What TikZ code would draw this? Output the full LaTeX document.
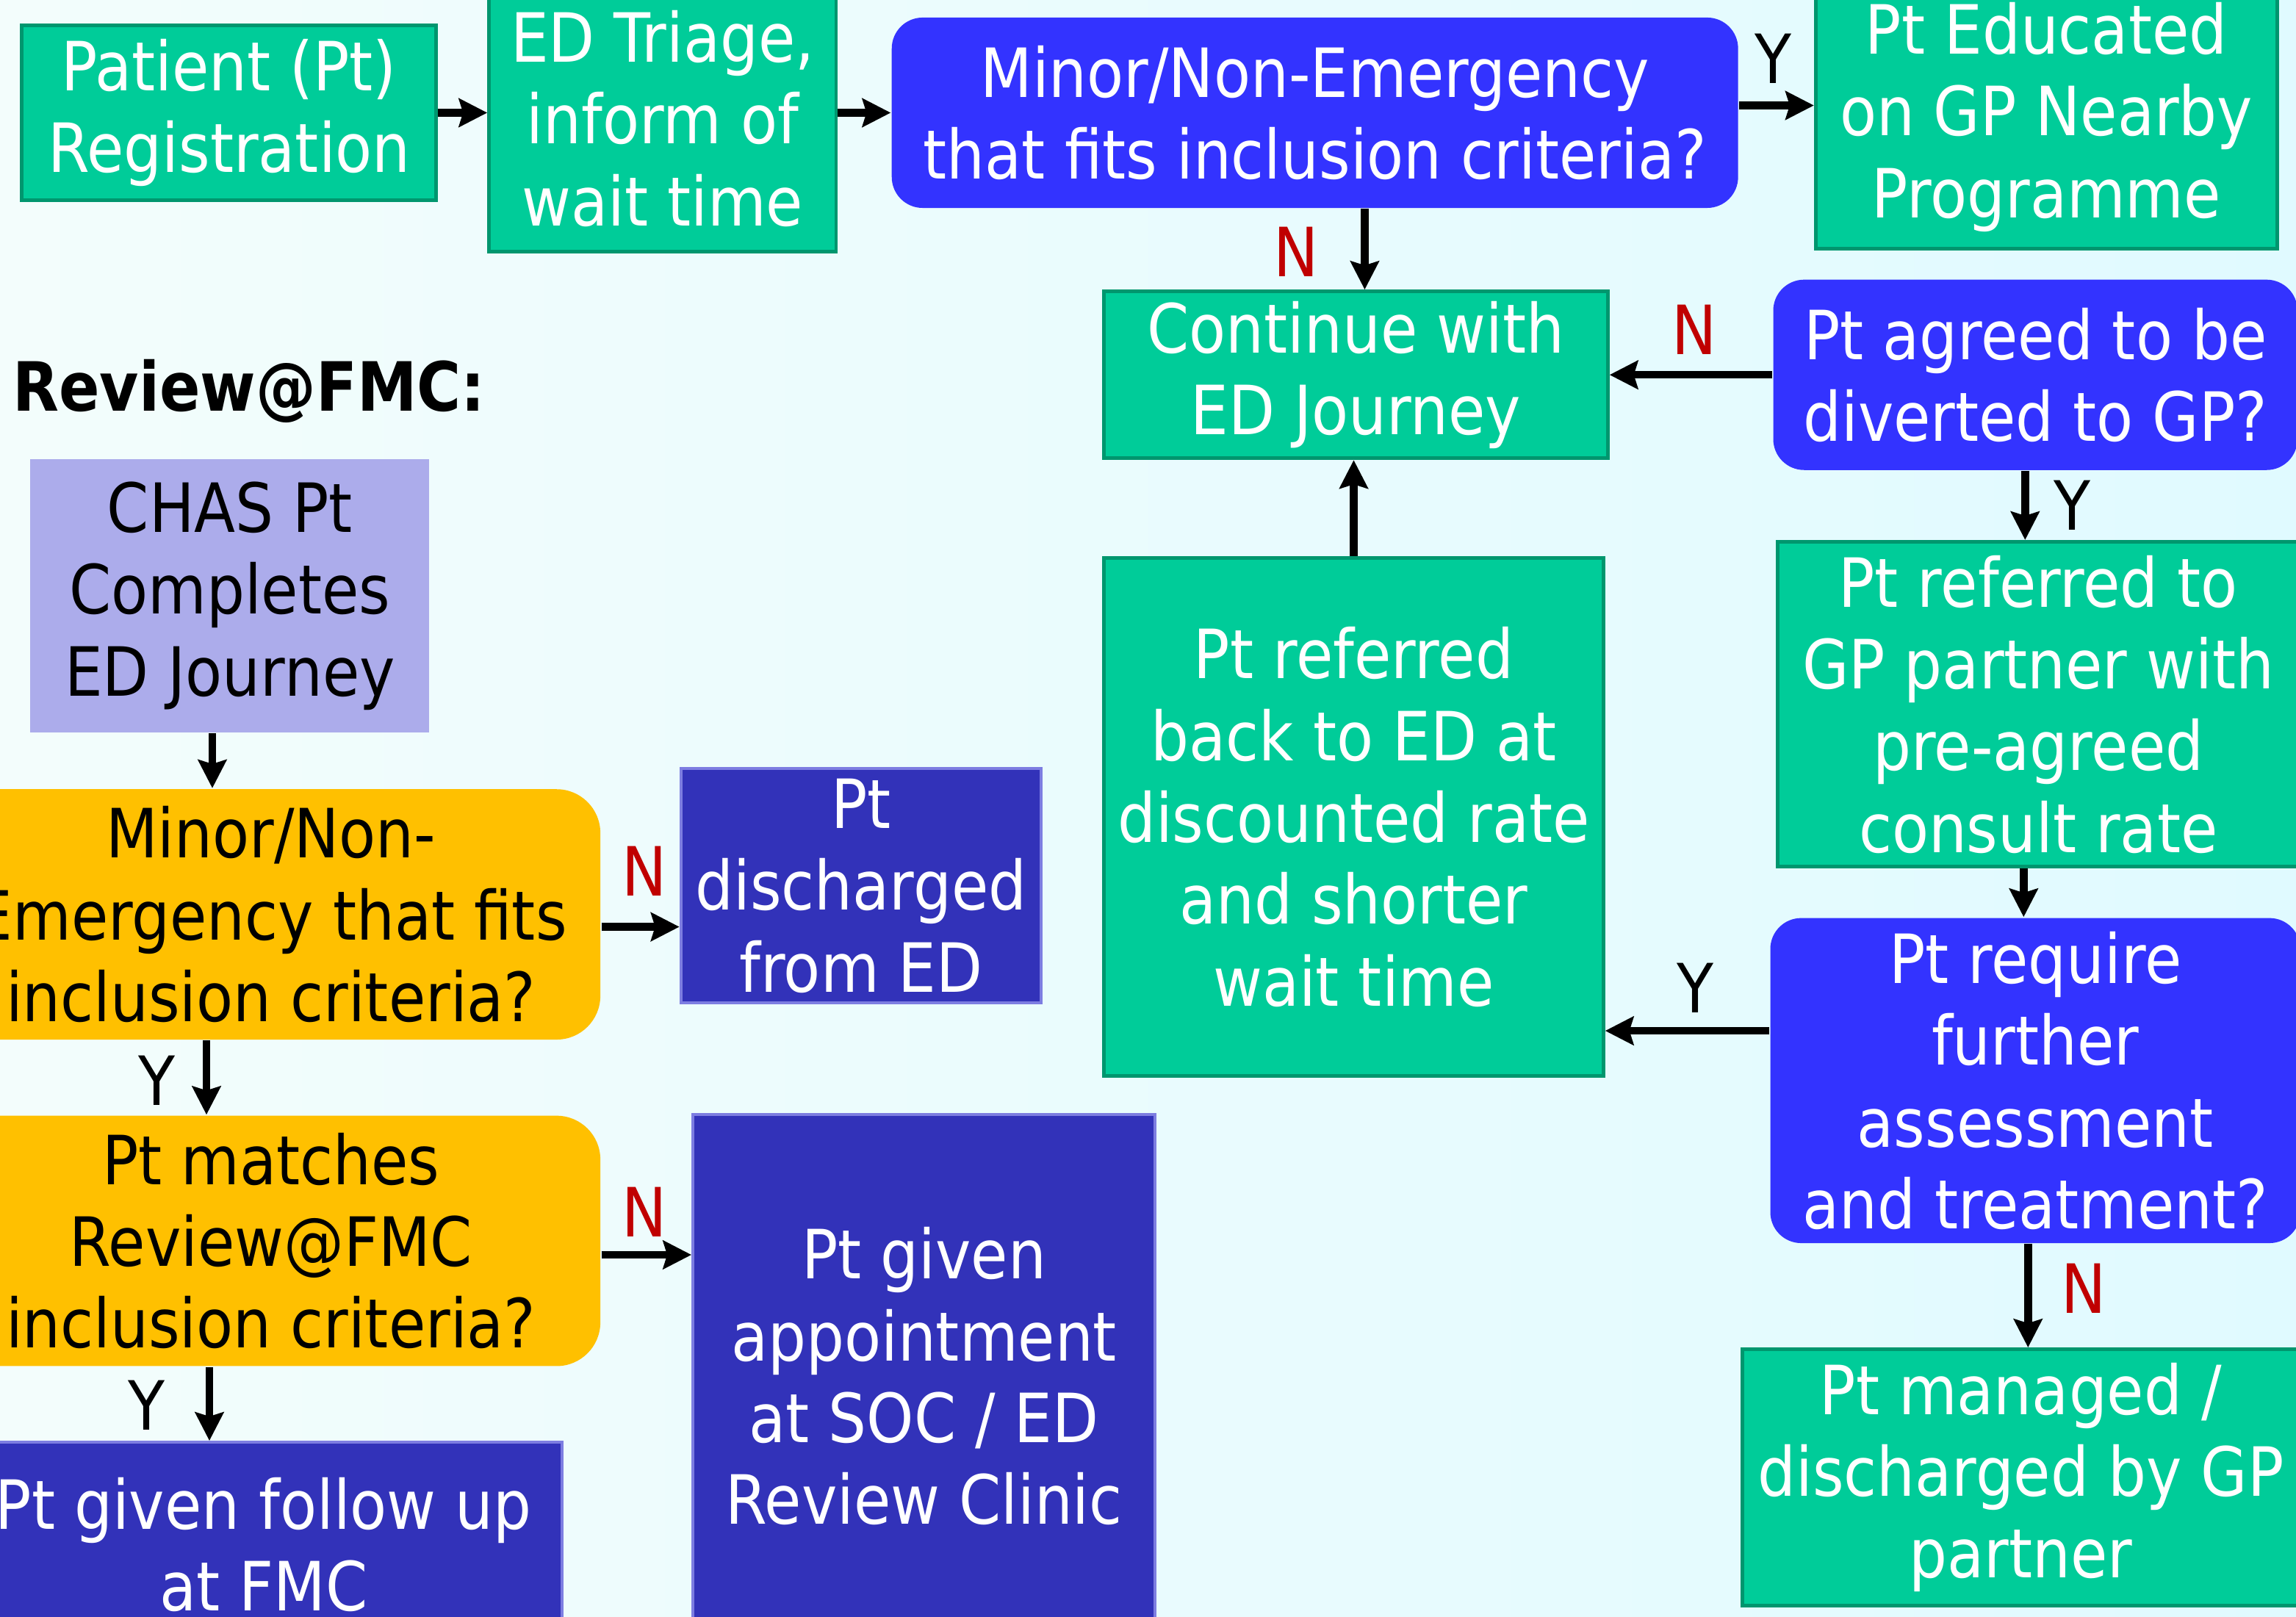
\documentclass[tikz,border=0pt]{standalone}
\usepackage{fontspec}
\setmainfont{DejaVu Sans}[FakeStretch=0.885]
\usetikzlibrary{positioning}
\usetikzlibrary{calc}
\usetikzlibrary{arrows.meta}
\definecolor{boxgreen}{RGB}{0,204,153}
\definecolor{greenedge}{RGB}{0,150,110}
\definecolor{askblue}{RGB}{51,51,255}
\definecolor{darkblue}{RGB}{50,50,185}
\definecolor{darkedge}{RGB}{125,125,225}
\definecolor{lavender}{RGB}{172,172,235}
\definecolor{amber}{RGB}{255,192,0}
\definecolor{noRed}{RGB}{192,0,0}
\definecolor{bgleft}{RGB}{243,253,252}
\definecolor{bgright}{RGB}{224,250,255}
\newcommand{\boxfont}{\fontsize{13.2pt}{15.9pt}\selectfont}

\begin{document}
\begin{tikzpicture}[x=0.1mm, y=-0.1mm,
    flowbox/.style={inner sep=0pt, align=center, font=\boxfont},
    greenbox/.style={flowbox, fill=boxgreen, draw=greenedge, line width=0.7pt, text=white},
    askbox/.style={flowbox, fill=askblue, rounded corners=6pt, text=white},
    darkbox/.style={flowbox, fill=darkblue, draw=darkedge, line width=0.6pt, text=white},
    chasbox/.style={flowbox, fill=lavender, text=black},
    amberbox/.style={flowbox, fill=amber, rounded corners=8.5pt, text=black},
    ylab/.style={inner sep=0pt, font=\boxfont, text=black},
    nlab/.style={ylab, text=noRed},
    flow/.style={-{Stealth[length=5.5pt, width=5.5pt, inset=0.8pt]}, line width=1.5pt}]
        \useasboundingbox (0,0) rectangle (1568,1104);
        \shade[left color=bgleft, right color=bgright] (0,0) rectangle (1568,1104);
        % nodes %
        \node[greenbox, minimum width=28.3mm, minimum height=11.95mm] (reg) at (156.5,77) {Patient (Pt)\\Registration};
        \node[greenbox, minimum width=23.7mm, minimum height=18.2mm] (triage) at (452.5,81) {ED Triage,\\inform of\\wait time};
        \node[askbox, minimum width=57.8mm, minimum height=13mm] (minor) at (898,77) {Minor/Non-Emergency\\that fits inclusion criteria?};
        \node[greenbox, minimum width=31.5mm, minimum height=18mm] (educ) at (1397.5,80) {Pt Educated\\on GP Nearby\\Programme};
        \node[greenbox, minimum width=34.4mm, minimum height=11.4mm] (cont) at (926,256) {Continue with\\ED Journey};
        \node[askbox, minimum width=35.8mm, minimum height=13mm] (agreed) at (1390,256) {Pt agreed to be\\diverted to GP?};
        \node[greenbox, minimum width=35.6mm, minimum height=22.2mm] (gpref) at (1392,481) {Pt referred to\\GP partner with\\pre-agreed\\consult rate};
        \node[greenbox, minimum width=34.1mm, minimum height=35.4mm] (backref) at (924.5,558) {Pt referred\\back to ED at\\discounted rate\\and shorter\\wait time};
        \node[askbox, minimum width=36.2mm, minimum height=22.2mm] (further) at (1390,738) {Pt require\\further\\assessment\\and treatment?};
        \node[greenbox, minimum width=38mm, minimum height=17.5mm] (managed) at (1380,1009) {Pt managed /\\discharged by GP\\partner};
        % \node for the Review@FMC part
        \node[anchor=west, inner sep=0pt, font=\boxfont\bfseries] (fmc) at (8,267) {Review@FMC:};
        \node[chasbox, minimum width=27.25mm, minimum height=18.65mm] (chas) at (157,407) {CHAS Pt\\Completes\\ED Journey};
        \node[amberbox, minimum width=45mm, minimum height=17.1mm] (minor2) at (185,624.5) {Minor/Non-\\Emergency that fits\\inclusion criteria?};
        \node[darkbox, minimum width=24.6mm, minimum height=16mm] (dischg) at (588,605) {Pt\\discharged\\from ED};
        \node[amberbox, minimum width=45mm, minimum height=17.1mm] (match) at (185,847.5) {Pt matches\\Review@FMC\\inclusion criteria?};
        \node[darkbox, minimum width=31.55mm, minimum height=35.8mm] (appt) at (631,940) {Pt given\\appointment\\at SOC / ED\\Review Clinic};
        \node[darkbox, minimum width=40.8mm, minimum height=14mm] (follow) at (180,1055) {Pt given follow up\\at FMC};
        % Y / N %
        \node[ylab] (y1) at (1211,40) {Y};
        \node[nlab] (n1) at (885,172) {N};
        \node[nlab] (n2) at (1157,225) {N};
        \node[ylab] (y2) at (1415,345) {Y};
        \node[ylab] (y3) at (1158,675) {Y};
        \node[nlab] (n3) at (1423,880) {N};
        \node[nlab] (n4) at (440,595) {N};
        \node[ylab] (y4) at (107,738) {Y};
        \node[nlab] (n5) at (440,828) {N};
        \node[ylab] (y5) at (100,960) {Y};
        % edges %
        \draw[flow] (reg.east) -- (reg.east -| triage.west);
        \draw[flow] (minor.west -| triage.east) -- (minor.west);
        \draw[flow] ([yshift=0.5mm]minor.east) -- ([yshift=0.5mm]minor.east -| educ.west);
        \draw[flow] ([xshift=0.6mm]cont.north |- minor.south) -- ([xshift=0.6mm]cont.north);
        \draw[flow] (agreed.west) -- (agreed.west -| cont.east);
        \draw[flow] ([xshift=-0.7mm]agreed.south) -- ([xshift=-0.7mm]agreed.south |- gpref.north);
        \draw[flow] ([xshift=-1mm]gpref.south) -- ([xshift=-1mm]gpref.south |- further.north);
        \draw[flow] ([yshift=3.4mm]further.west) -- ([yshift=3.4mm]further.west -| backref.east);
        \draw[flow] (backref.north) -- (backref.north |- cont.south);
        \draw[flow] ([xshift=-0.5mm]further.south) -- ([xshift=-0.5mm]further.south |- managed.north);
        \draw[flow] ([xshift=-1.2mm]chas.south) -- ([xshift=-1.2mm]chas.south |- minor2.north);
        \draw[flow] ([yshift=-0.85mm]minor2.east) -- ([yshift=-0.85mm]minor2.east -| dischg.west);
        \draw[flow] ([xshift=-4.4mm]minor2.south) -- ([xshift=-4.4mm]minor2.south |- match.north);
        \draw[flow] ([yshift=-0.95mm]match.east) -- ([yshift=-0.95mm]match.east -| appt.west);
        \draw[flow] ([xshift=-4.2mm]match.south) -- ([xshift=-4.2mm]match.south |- follow.north);
\end{tikzpicture}
\end{document}
